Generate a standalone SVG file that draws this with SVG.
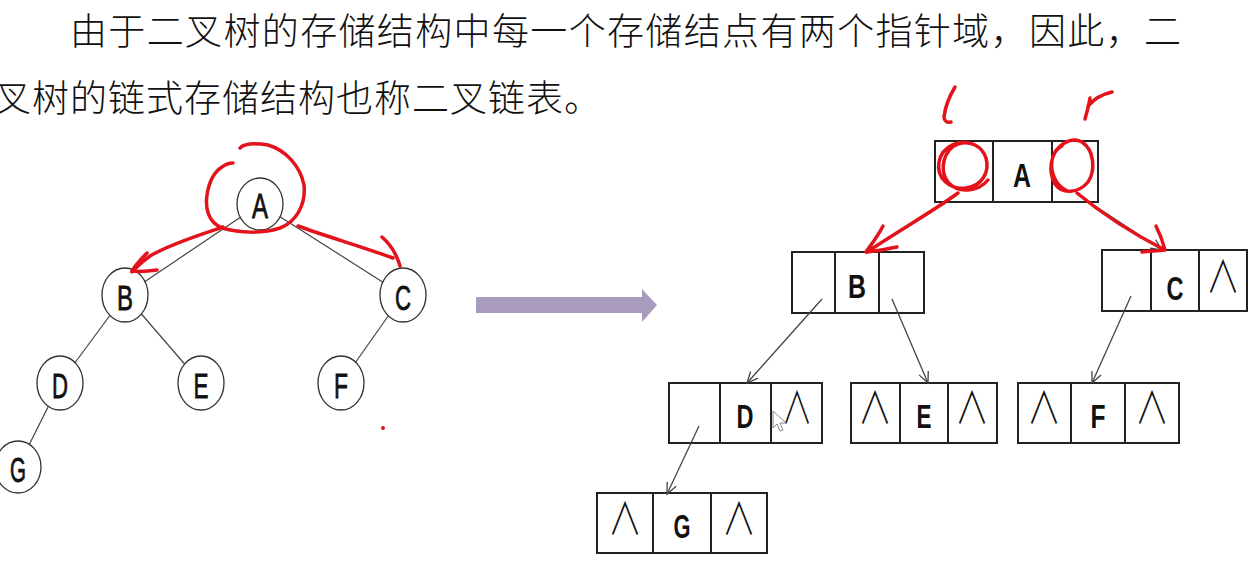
<svg xmlns="http://www.w3.org/2000/svg" width="1257" height="567" viewBox="0 0 1257 567">
  <style>
    .para { font-family: "Noto Sans CJK SC", "Liberation Sans", sans-serif; font-size: 37px; font-weight: 300; fill: #111; }
    .tl { font-family: "Liberation Sans", "DejaVu Sans", sans-serif; font-size: 35px; fill: #111; stroke: #111; stroke-width: 0.8; text-anchor: middle; }
    .bl { font-family: "Liberation Sans", "DejaVu Sans", sans-serif; font-size: 34px; font-weight: bold; fill: #111; text-anchor: middle; }
    .nil { font-family: "Noto Sans CJK SC", "DejaVu Sans", sans-serif; font-size: 44px; font-weight: 300; fill: #111; text-anchor: middle; }
    .tn ellipse { fill: #fff; stroke: #333; stroke-width: 1.3; }
    .edge { stroke: #444; stroke-width: 1.2; fill: none; }
    .box rect { fill: #fff; stroke: #222; stroke-width: 2; }
    .box line { stroke: #222; stroke-width: 2; }
    .ptr { stroke: #444; stroke-width: 1.3; fill: none; marker-end: url(#vh); }
    .red { stroke: #e3121b; stroke-width: 3.5; fill: none; stroke-linecap: round; stroke-linejoin: round; }
  </style>
  <defs>
    <marker id="vh" markerUnits="userSpaceOnUse" markerWidth="14" markerHeight="14" refX="12" refY="6" orient="auto" viewBox="0 0 14 12">
      <path d="M1,1 L12,6 L1,11" fill="none" stroke="#444" stroke-width="1.3"/>
    </marker>
  </defs>
  <rect width="1257" height="567" fill="#fff"/>

  <g id="paragraph">
    <text class="para" x="70" y="45" textLength="1111" lengthAdjust="spacing">由于二叉树的存储结构中每一个存储结点有两个指针域，因此，二</text>
    <text class="para" x="-6" y="112" textLength="607" lengthAdjust="spacing">叉树的链式存储结构也称二叉链表。</text>
  </g>

  <!-- left tree edges -->
  <g id="tree-edges">
    <line class="edge" x1="260" y1="204" x2="125" y2="295"/>
    <line class="edge" x1="260" y1="204" x2="403" y2="295"/>
    <line class="edge" x1="125" y1="295" x2="60" y2="383"/>
    <line class="edge" x1="125" y1="295" x2="201" y2="383"/>
    <line class="edge" x1="403" y1="295" x2="341" y2="383"/>
    <line class="edge" x1="60" y1="383" x2="18" y2="467"/>
  </g>
  <g id="tA" class="tn"><ellipse cx="260" cy="204" rx="23" ry="26"/><text class="tl" x="260" y="218" textLength="16" lengthAdjust="spacingAndGlyphs">A</text></g>
  <g id="tB" class="tn"><ellipse cx="125" cy="295" rx="23" ry="27"/><text class="tl" x="125" y="310" textLength="16" lengthAdjust="spacingAndGlyphs">B</text></g>
  <g id="tC" class="tn"><ellipse cx="403" cy="295" rx="23" ry="27"/><text class="tl" x="403" y="310" textLength="16" lengthAdjust="spacingAndGlyphs">C</text></g>
  <g id="tD" class="tn"><ellipse cx="60" cy="383" rx="23" ry="27"/><text class="tl" x="60" y="398" textLength="16" lengthAdjust="spacingAndGlyphs">D</text></g>
  <g id="tE" class="tn"><ellipse cx="201" cy="383" rx="23" ry="27"/><text class="tl" x="201" y="398" textLength="15" lengthAdjust="spacingAndGlyphs">E</text></g>
  <g id="tF" class="tn"><ellipse cx="341" cy="383" rx="23" ry="27"/><text class="tl" x="341" y="398" textLength="14" lengthAdjust="spacingAndGlyphs">F</text></g>
  <g id="tG" class="tn"><ellipse cx="18" cy="467" rx="23" ry="26"/><text class="tl" x="18" y="482" textLength="16" lengthAdjust="spacingAndGlyphs">G</text></g>

  <!-- big transform arrow -->
  <g id="transform-arrow">
    <path d="M476,297 L642,297 L642,289 L657,305 L642,322 L642,313 L476,313 Z" fill="#a99bbd"/>
  </g>

  <!-- right linked nodes -->
  <g id="nA" class="box">
    <rect x="935" y="141" width="163" height="61"/>
    <line x1="993" y1="141" x2="993" y2="202"/><line x1="1052" y1="141" x2="1052" y2="202"/>
    <text class="bl" x="1022" y="187" textLength="18" lengthAdjust="spacingAndGlyphs">A</text>
  </g>
  <g id="nB" class="box">
    <rect x="792" y="252" width="132" height="61"/>
    <line x1="835" y1="252" x2="835" y2="313"/><line x1="879" y1="252" x2="879" y2="313"/>
    <text class="bl" x="857" y="298" textLength="18" lengthAdjust="spacingAndGlyphs">B</text>
  </g>
  <g id="nC" class="box">
    <rect x="1102" y="250" width="145" height="61"/>
    <line x1="1151" y1="250" x2="1151" y2="311"/><line x1="1199" y1="250" x2="1199" y2="311"/>
    <text class="bl" x="1175" y="300" textLength="17" lengthAdjust="spacingAndGlyphs">C</text>
    <text class="nil" x="1223" y="293" textLength="34" lengthAdjust="spacingAndGlyphs">∧</text>
  </g>
  <g id="nD" class="box">
    <rect x="669" y="383" width="153" height="60"/>
    <line x1="720" y1="383" x2="720" y2="443"/><line x1="771" y1="383" x2="771" y2="443"/>
    <text class="bl" x="745" y="428" textLength="17" lengthAdjust="spacingAndGlyphs">D</text>
    <text class="nil" x="797" y="424" textLength="31" lengthAdjust="spacingAndGlyphs">∧</text>
  </g>
  <g id="nE" class="box">
    <rect x="851" y="383" width="146" height="60"/>
    <line x1="900" y1="383" x2="900" y2="443"/><line x1="948" y1="383" x2="948" y2="443"/>
    <text class="nil" x="875" y="424" textLength="34" lengthAdjust="spacingAndGlyphs">∧</text>
    <text class="bl" x="924" y="428" textLength="15" lengthAdjust="spacingAndGlyphs">E</text>
    <text class="nil" x="972" y="424" textLength="34" lengthAdjust="spacingAndGlyphs">∧</text>
  </g>
  <g id="nF" class="box">
    <rect x="1018" y="383" width="161" height="60"/>
    <line x1="1071" y1="383" x2="1071" y2="443"/><line x1="1125" y1="383" x2="1125" y2="443"/>
    <text class="nil" x="1044" y="424" textLength="34" lengthAdjust="spacingAndGlyphs">∧</text>
    <text class="bl" x="1098" y="428" textLength="15" lengthAdjust="spacingAndGlyphs">F</text>
    <text class="nil" x="1152" y="424" textLength="34" lengthAdjust="spacingAndGlyphs">∧</text>
  </g>
  <g id="nG" class="box">
    <rect x="597" y="493" width="170" height="60"/>
    <line x1="653" y1="493" x2="653" y2="553"/><line x1="711" y1="493" x2="711" y2="553"/>
    <text class="nil" x="625" y="535" textLength="34" lengthAdjust="spacingAndGlyphs">∧</text>
    <text class="bl" x="682" y="538" textLength="17" lengthAdjust="spacingAndGlyphs">G</text>
    <text class="nil" x="739" y="535" textLength="34" lengthAdjust="spacingAndGlyphs">∧</text>
  </g>

  <g id="connectors">
    <line class="ptr" x1="947" y1="202" x2="865" y2="252"/>
    <line class="ptr" x1="1083" y1="198" x2="1162" y2="250"/>
    <line class="ptr" x1="822" y1="299" x2="747" y2="383"/>
    <line class="ptr" x1="892" y1="299" x2="928" y2="383"/>
    <line class="ptr" x1="1131" y1="296" x2="1092" y2="383"/>
    <line class="ptr" x1="699" y1="426" x2="667" y2="494"/>
  </g>

  <!-- mouse cursor -->
  <g id="cursor">
    <path d="M773,411 L773,428 L777,424 L780,431 L783,430 L780,423 L786,423 Z" fill="#fff" stroke="#888" stroke-width="1"/>
  </g>

  <!-- red hand annotations -->
  <g id="annotations">
    <path class="red" d="M240,148 C244,144 255,143 268,145 C285,150 300,165 304,185 C306,205 296,222 280,228 C262,234 240,233 222,228 C208,222 205,208 207,195 C209,182 214,172 222,167 C226,164 230,163 233,163"/>
    <path class="red" d="M223,227 C205,233 170,244 150,256 C142,262 136,267 132,272"/>
    <path class="red" d="M147,253 C140,260 135,266 132,271 C140,272 150,271 157,270"/>
    <path class="red" d="M298,226 C325,236 360,246 393,258"/>
    <path class="red" d="M382,237 C390,244 396,252 400,266"/>
    <circle cx="383" cy="428" r="2" fill="#e3121b"/>

    <path class="red" d="M955,87 C949,97 945,108 944,117 C944,121 947,123 951,122"/>
    <path class="red" d="M1090,98 C1089,105 1087,112 1085,119 M1088,106 C1094,99 1103,94 1112,92"/>
    <path class="red" d="M975,145 C960,138 942,146 939,162 C936,178 950,190 966,188 C982,186 990,172 986,158 C982,146 970,140 958,144 C943,150 939,170 948,182 C958,194 978,192 988,180"/>
    <path class="red" d="M1062,146 C1050,152 1048,172 1055,184 C1062,194 1078,194 1088,182 C1096,170 1094,150 1082,142 C1070,136 1055,146 1052,160 C1050,172 1056,186 1066,190"/>
    <path class="red" d="M958,193 C935,210 900,230 867,252"/>
    <path class="red" d="M883,226 C878,236 871,245 866,252 C876,251 887,249 897,247"/>
    <path class="red" d="M1077,193 C1100,212 1130,232 1163,249"/>
    <path class="red" d="M1156,226 C1160,234 1163,242 1165,250 C1158,251 1150,251 1142,252"/>
  </g>
</svg>
